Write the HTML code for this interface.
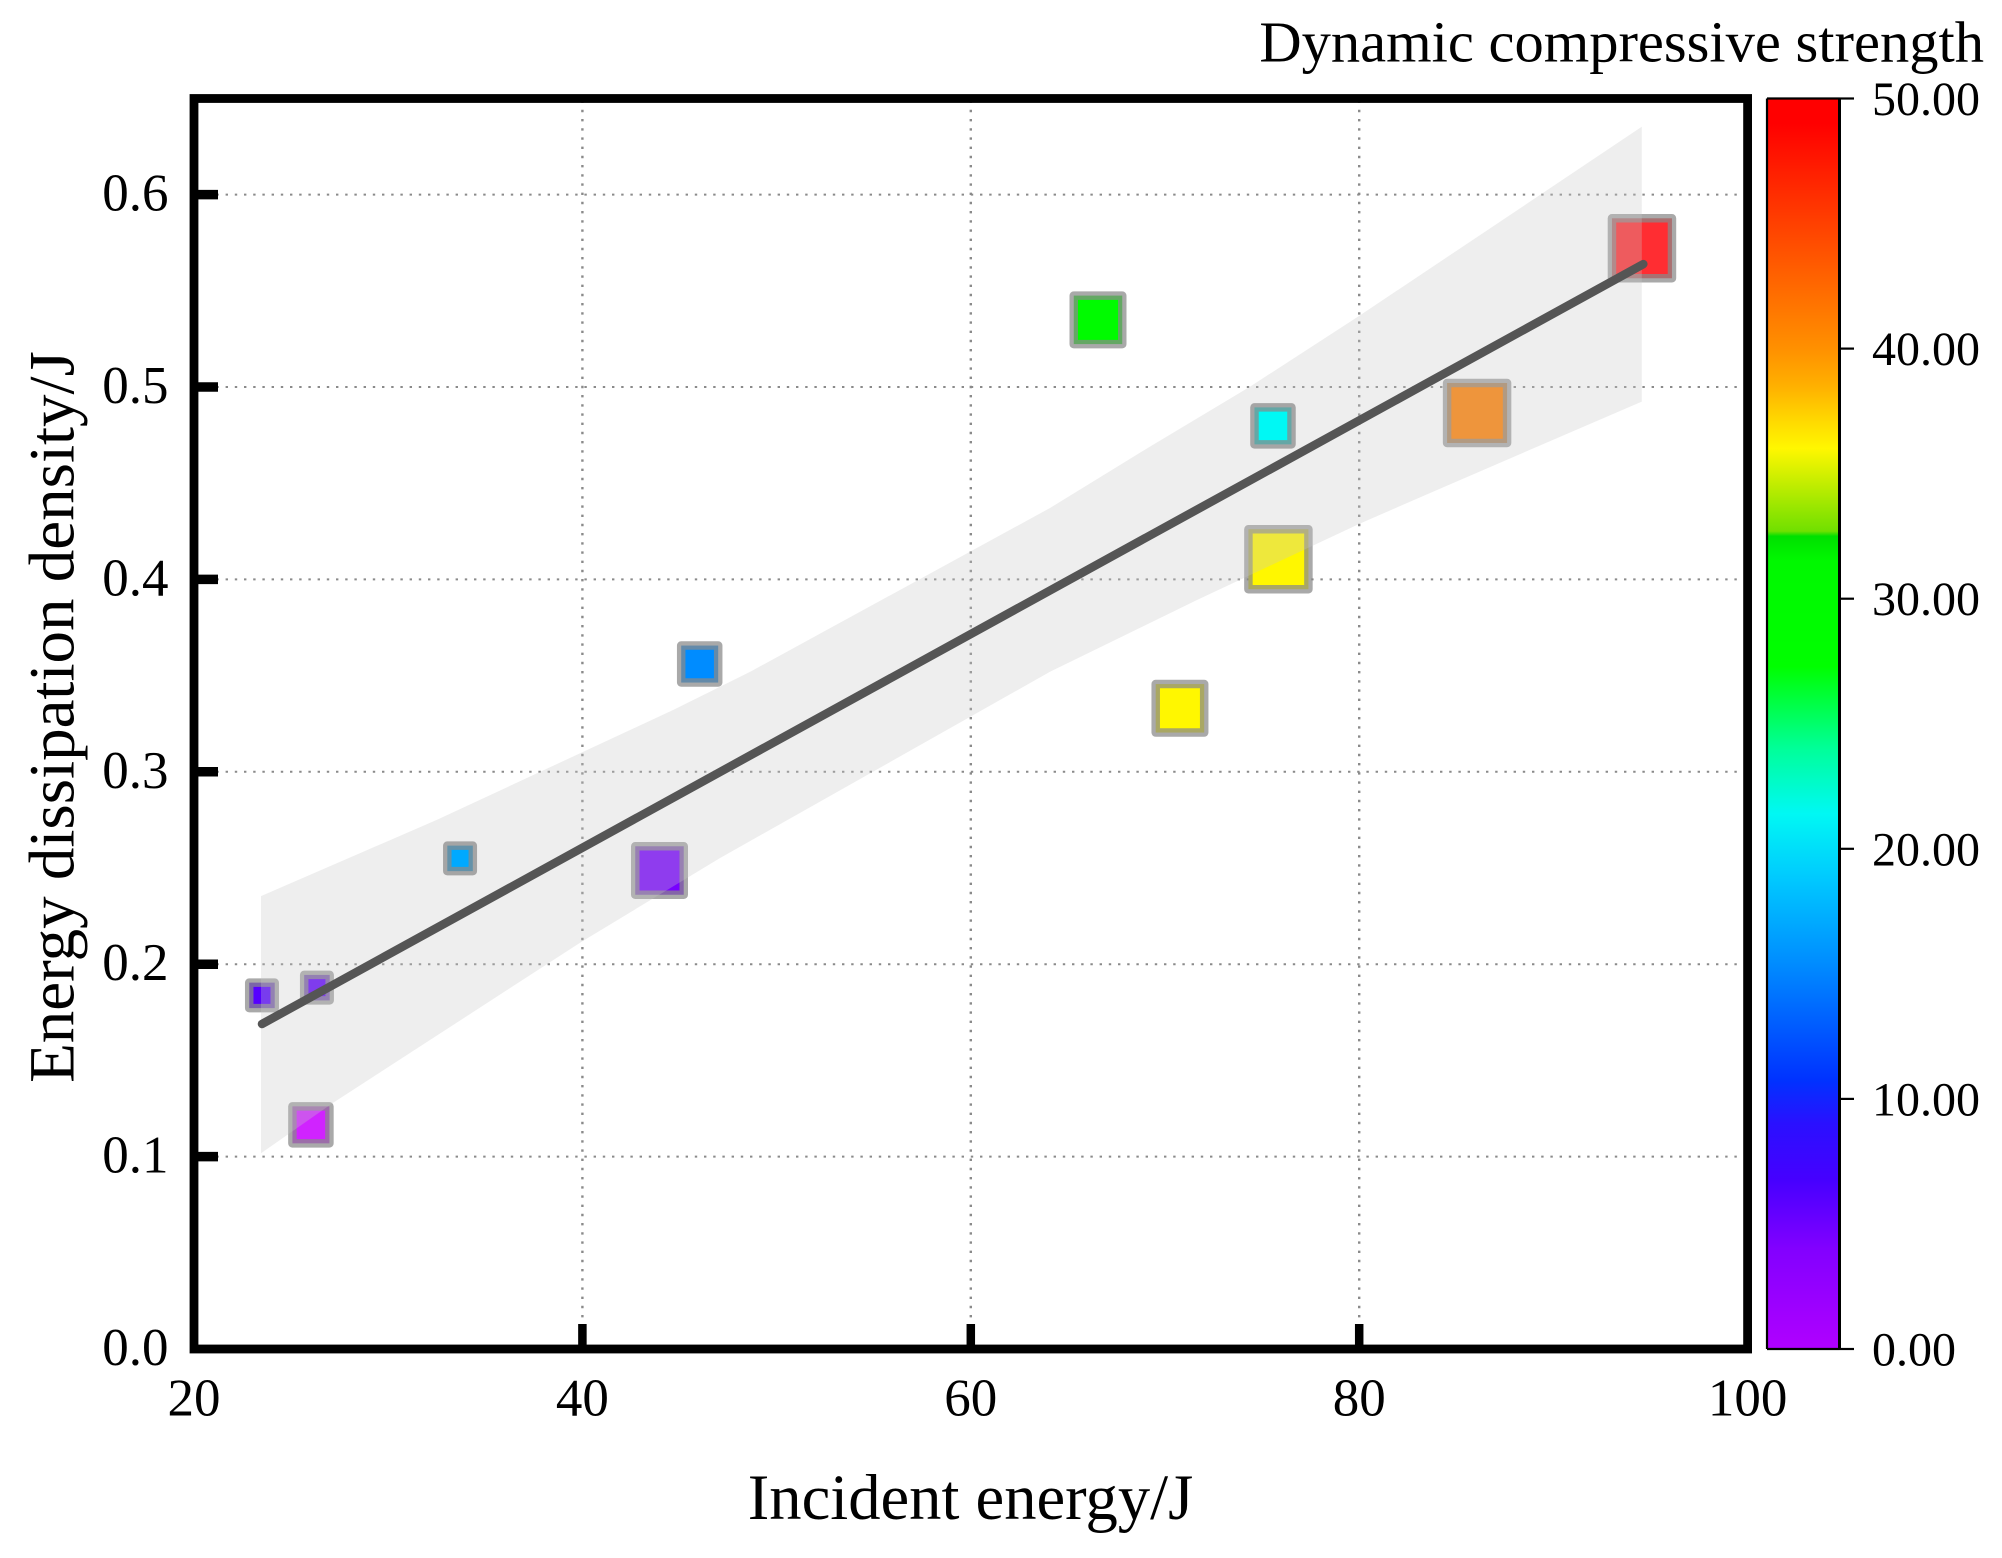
<!DOCTYPE html>
<html lang="en">
<head>
<meta charset="utf-8">
<title>Energy dissipation density vs incident energy</title>
<style>
html,body{margin:0;padding:0;background:#fff;width:2002px;height:1558px;overflow:hidden}
svg{display:block}
text{font-family:"Liberation Serif",serif;fill:#000}
</style>
</head>
<body>
<svg id="chart" xmlns="http://www.w3.org/2000/svg" width="2002" height="1558" viewBox="0 0 2002 1558">
  <defs>
    <linearGradient id="cbGrad" x1="0" y1="1" x2="0" y2="0"></linearGradient>
  </defs>
  <rect x="0" y="0" width="2002" height="1558" fill="#fff"/>
  <g id="grid"></g>
  <g id="markers"></g>
  <path id="band" fill="rgb(198,198,198)" fill-opacity="0.3"></path>
  <g id="markersTop"></g>
  <path id="fit" fill="none" stroke="#555" stroke-width="8.5" stroke-linecap="round"></path>
  <g id="ticks"></g>
  <rect x="194" y="98.5" width="1553.6" height="1250.5" fill="none" stroke="#000" stroke-width="8.8"/>
  <g id="tickLabels"></g>
  <text x="970.5" y="1519" font-size="64.6" text-anchor="middle">Incident energy/J</text>
  <text transform="translate(73.6 717) rotate(-90)" font-size="65" text-anchor="middle">Energy dissipation density/J</text>
  <text x="1984" y="61.7" font-size="58.5" text-anchor="end">Dynamic compressive strength</text>
  <rect id="cbBar" x="1767" y="98.5" width="72.5" height="1250.5" fill="url(#cbGrad)"/>
  <path d="M1767 98.5V1349M1767 98.5H1839.5M1767 1349H1839.5" fill="none" stroke="#000" stroke-width="2.2"/>
  <path d="M1839.5 97.5V1350" fill="none" stroke="#000" stroke-width="3"/>
  <g id="cbTicks"></g>
</svg>
<script>
// ---- Data ----
const incidentEnergy = [23.50, 26.33, 33.70, 43.97, 26.02, 46.04, 66.55, 75.56, 75.84, 70.77, 86.07, 94.56];
const dissipationDensity = [0.1838, 0.1878, 0.2550, 0.2487, 0.1165, 0.3560, 0.5349, 0.4798, 0.4105, 0.3330, 0.4865, 0.5721];
const compressiveStrength = [6, 5.5, 17, 4.5, -4, 15.4, 30, 21.4, 36, 36, 41, 51];
const markerSizeClass = [1, 1, 1, 3, 2, 2, 3, 2, 4, 3, 4, 4];
const markerOverBand = [false, false, true, false, false, false, false, true, false, false, false, false];

const fitEnergy = [23.5, 94.63];
const fitDensity = [0.1689, 0.5639];

const bandUpperEnergy = [23.45, 32.5, 44.67, 48.63, 64.08, 69.23, 74.38, 79.99, 87.25, 94.55];
const bandUpperDensity = [0.2354, 0.2750, 0.3321, 0.3519, 0.4371, 0.4690, 0.5002, 0.5369, 0.5859, 0.6353];
const bandLowerEnergy = [23.45, 27.16, 39.96, 47.09, 64.08, 71.65, 79.99, 83.80, 94.55];
const bandLowerDensity = [0.1017, 0.1279, 0.2117, 0.2552, 0.3520, 0.3893, 0.4288, 0.4456, 0.4924];

const xTicks = [20, 40, 60, 80, 100];
const xTickLabels = ["20", "40", "60", "80", "100"];
const yTicks = [0, 0.1, 0.2, 0.3, 0.4, 0.5, 0.6];
const yTickLabels = ["0.0", "0.1", "0.2", "0.3", "0.4", "0.5", "0.6"];
const colorbarTicks = [0, 10, 20, 30, 40, 50];
const colorbarTickLabels = ["0.00", "10.00", "20.00", "30.00", "40.00", "50.00"];

const colormapValues = [-4, 0, 4, 6.75, 9, 10.75, 15.4, 18.75, 21.4, 24, 27.3, 31.5, 32.5, 32.7, 36, 37, 38.5, 40, 43, 46, 48.5, 49, 50, 51];
const colormapColors = ["#d023ff", "#b000ff", "#8200ff", "#4600ff", "#2a10ff", "#0032ff", "#008cff", "#00c8ff", "#00f8f4", "#00ff99", "#00ff00", "#00f800", "#00e000", "#70e000", "#fff700", "#ffdc00", "#ffb000", "#ff9000", "#ff6000", "#ff3000", "#ff0800", "#ff0000", "#ff0000", "#ff2d32"];

// ---- Axis functions ----
const SVGNS = "http://www.w3.org/2000/svg";
function xScale(v) { return 194 + (v - 20) * 19.42; }
function yScale(v) { return 1349 - v * 1924; }
function cbScale(v) { return 1349 - v * 25.01; }
function sizeScale(c) { return 34 + (c - 1) * 11.5; }
function hexToRgb(h) { return [1, 3, 5].map(function (i) { return parseInt(h.substr(i, 2), 16); }); }
function colorFor(v) {
  const n = colormapValues.length;
  if (v <= colormapValues[0]) return colormapColors[0];
  if (v >= colormapValues[n - 1]) return colormapColors[n - 1];
  for (let i = 1; i < n; i++) {
    if (v <= colormapValues[i]) {
      const t = (v - colormapValues[i - 1]) / (colormapValues[i] - colormapValues[i - 1]);
      const a = hexToRgb(colormapColors[i - 1]);
      const b = hexToRgb(colormapColors[i]);
      return "rgb(" + a.map(function (c, k) { return Math.round(c + (b[k] - c) * t); }).join(",") + ")";
    }
  }
}
function make(tag, parent) {
  const el = document.createElementNS(SVGNS, tag);
  parent.appendChild(el);
  return el;
}

const gridG = document.getElementById("grid");
const marksG = document.getElementById("markers");
const marksTopG = document.getElementById("markersTop");
const ticksG = document.getElementById("ticks");
const labelsG = document.getElementById("tickLabels");
const cbTicksG = document.getElementById("cbTicks");
const grad = document.getElementById("cbGrad");

// Grid lines
yTicks.forEach(function (v) {
  if (v === 0) return;
  const l = make("line", gridG);
  
  
  l.setAttribute("x1", 198);
  l.setAttribute("x2", 1743.5);
  l.setAttribute("y1", yScale(v));
  l.setAttribute("y2", yScale(v));
  l.setAttribute("stroke", "#8a8a8a");
  l.setAttribute("stroke-width", "2");
  l.setAttribute("stroke-dasharray", "2.4 6.8");
});
xTicks.forEach(function (v) {
  if (v === 20 || v === 100) return;
  const l = make("line", gridG);
  
  
  l.setAttribute("x1", xScale(v));
  l.setAttribute("x2", xScale(v));
  l.setAttribute("y1", 1345);
  l.setAttribute("y2", 102.5);
  l.setAttribute("stroke", "#8a8a8a");
  l.setAttribute("stroke-width", "2.4");
  l.setAttribute("stroke-dasharray", "2.4 6.8");
});

// Markers
incidentEnergy.forEach(function (e, i) {
  const outer = sizeScale(markerSizeClass[i]);
  const s = outer - 8.5;
  const r = make("rect", markerOverBand[i] ? marksTopG : marksG);
  
  
  r.setAttribute("x", xScale(e) - s / 2);
  r.setAttribute("y", yScale(dissipationDensity[i]) - s / 2);
  r.setAttribute("width", s);
  r.setAttribute("height", s);
  r.setAttribute("fill", colorFor(compressiveStrength[i]));
  r.setAttribute("stroke", "rgb(137,137,137)");
  r.setAttribute("stroke-opacity", "0.73");
  r.setAttribute("stroke-width", "8.5");
  r.setAttribute("stroke-linejoin", "round");
});

// Confidence band
(function () {
  let d = "";
  bandUpperEnergy.forEach(function (e, i) {
    d += (i ? "L" : "M") + xScale(e).toFixed(1) + " " + yScale(bandUpperDensity[i]).toFixed(1);
  });
  for (let i = bandLowerEnergy.length - 1; i >= 0; i--) {
    d += "L" + xScale(bandLowerEnergy[i]).toFixed(1) + " " + yScale(bandLowerDensity[i]).toFixed(1);
  }
  document.getElementById("band").setAttribute("d", d + "Z");
})();

// Fit line
document.getElementById("fit").setAttribute("d",
  "M" + fitEnergy.map(function (e, i) {
    return xScale(e).toFixed(1) + " " + yScale(fitDensity[i]).toFixed(1);
  }).join("L"));

// Ticks and tick labels
yTicks.forEach(function (v, i) {
  if (v !== 0) {
    const t = make("line", ticksG);
    
    
    t.setAttribute("x1", 194);
    t.setAttribute("x2", 218);
    t.setAttribute("y1", yScale(v));
    t.setAttribute("y2", yScale(v));
    t.setAttribute("stroke", "#000");
    t.setAttribute("stroke-width", "9.5");
  }
  const txt = make("text", labelsG);
  
  
  txt.setAttribute("x", 168.5);
  txt.setAttribute("y", yScale(v) + 16);
  txt.setAttribute("font-size", "53");
  txt.setAttribute("text-anchor", "end");
  txt.textContent = yTickLabels[i];
});
xTicks.forEach(function (v, i) {
  if (v !== 20 && v !== 100) {
    const t = make("line", ticksG);
    
    
    t.setAttribute("x1", xScale(v));
    t.setAttribute("x2", xScale(v));
    t.setAttribute("y1", 1349);
    t.setAttribute("y2", 1324);
    t.setAttribute("stroke", "#000");
    t.setAttribute("stroke-width", "8.5");
  }
  const txt = make("text", labelsG);
  
  
  txt.setAttribute("x", xScale(v));
  txt.setAttribute("y", 1415.6);
  txt.setAttribute("font-size", "53");
  txt.setAttribute("text-anchor", "middle");
  txt.textContent = xTickLabels[i];
});

// Colorbar gradient from the colormap (0..50 range)
colormapValues.forEach(function (v, i) {
  if (v < 0 || v > 50) return;
  const st = make("stop", grad);
  
  
  st.setAttribute("offset", (v / 50 * 100) + "%");
  st.setAttribute("stop-color", colormapColors[i]);
});

// Colorbar ticks
colorbarTicks.forEach(function (v, i) {
  const t = make("line", cbTicksG);
  
  
  t.setAttribute("x1", 1839.5);
  t.setAttribute("x2", 1854);
  t.setAttribute("y1", cbScale(v));
  t.setAttribute("y2", cbScale(v));
  t.setAttribute("stroke", "#000");
  t.setAttribute("stroke-width", "2.2");
  const txt = make("text", cbTicksG);
  
  
  txt.setAttribute("x", 1872);
  txt.setAttribute("y", cbScale(v) + 16.5);
  txt.setAttribute("font-size", "48");
  txt.textContent = colorbarTickLabels[i];
});
</script>
</body>
</html>
